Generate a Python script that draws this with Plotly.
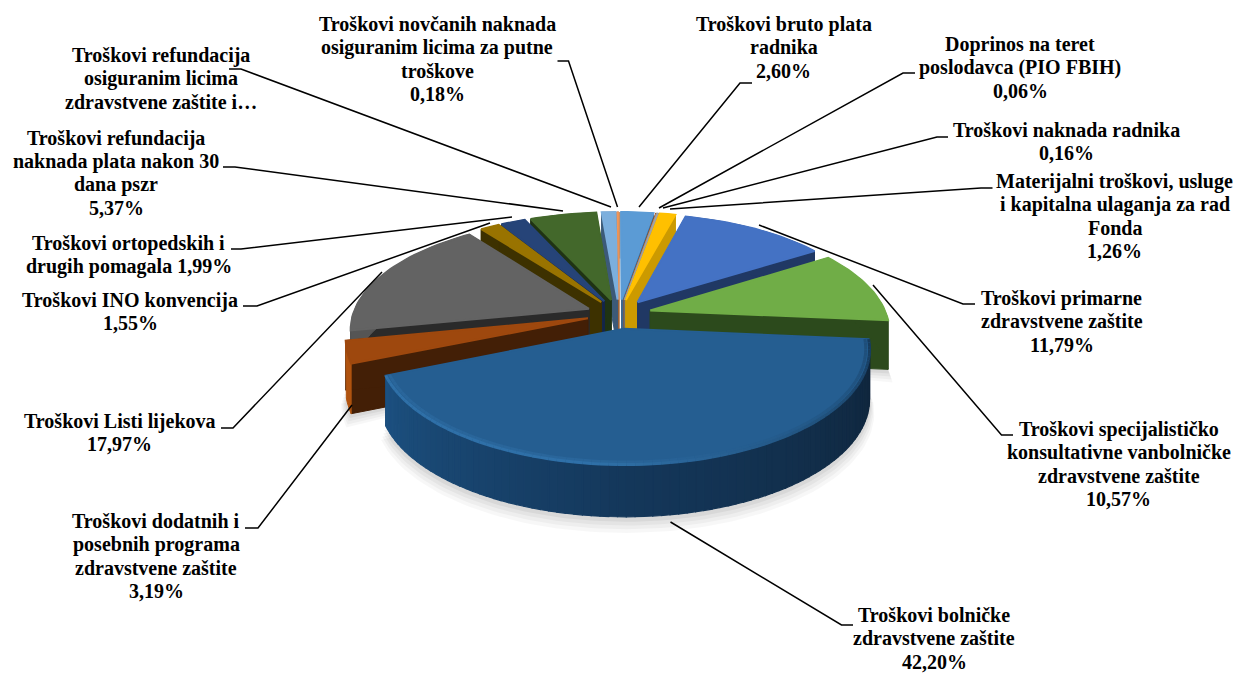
import math
import plotly.graph_objects as go

# ---- data ----
names = ["Troškovi bruto plata radnika", "Doprinos na teret poslodavca (PIO FBIH)", "Troškovi naknada radnika",
         "Materijalni troškovi, usluge i kapitalna ulaganja za rad Fonda", "Troškovi primarne zdravstvene zaštite",
         "Troškovi specijalističko konsultativne vanbolničke zdravstvene zaštite", "Troškovi bolničke zdravstvene zaštite",
         "Troškovi dodatnih i posebnih programa zdravstvene zaštite", "Troškovi Listi lijekova", "Troškovi INO konvencija",
         "Troškovi ortopedskih i drugih pomagala", "Troškovi refundacija naknada plata nakon 30 dana pszr",
         "Troškovi refundacija osiguranim licima zdravstvene zaštite i…", "Troškovi novčanih naknada osiguranim licima za putne troškove"]
values = [2.60, 0.06, 0.16, 1.26, 11.79, 10.57, 42.20, 3.19, 17.97, 1.55, 1.99, 5.37, 1.11, 0.18]

# ---- style ----
top_colors = ["#5B9BD5", "#ED7D31", "#A5A5A5", "#FFC000", "#4472C4", "#70AD47", "#255E91",
              "#9E480E", "#636363", "#997300", "#264478", "#43682B", "#7CAFDD", "#F1975A"]
face_colors = ["#3d6890", "#9a5020", "#6e6e6e", "#CC9A00", "#203864", "#2C4A1C", "#10304f",
               "#431F06", "#2A2A2A", "#3D3100", "#14264A", "#1F3313", "#3C5A78", "#A06030"]
rim_colors = ["#3d6890", "#9a5020", "#6e6e6e", "#CC9A00", "#203864", "#2C4A1C", "#14395c",
              "#B0530F", "#555555", "#3D3100", "#14264A", "#1F3313", "#3C5A78", "#A06030"]
rim_left, rim_mid, rim_right = "#1c5080", "#14375a", "#0f2439"
bevel_left, bevel_right = "#2f70a8", "#163a5c"

label_lines = [
    ["Troškovi bruto plata", "radnika", "2,60%"],
    ["Doprinos na teret", "poslodavca (PIO FBIH)", "0,06%"],
    ["Troškovi naknada radnika", "0,16%"],
    ["Materijalni troškovi, usluge", "i kapitalna ulaganja za rad", "Fonda", "1,26%"],
    ["Troškovi primarne", "zdravstvene zaštite", "11,79%"],
    ["Troškovi specijalističko", "konsultativne vanbolničke", "zdravstvene zaštite", "10,57%"],
    ["Troškovi bolničke", "zdravstvene zaštite", "42,20%"],
    ["Troškovi dodatnih i", "posebnih programa", "zdravstvene zaštite", "3,19%"],
    ["Troškovi Listi lijekova", "17,97%"],
    ["Troškovi INO konvencija", "1,55%"],
    ["Troškovi ortopedskih i", "drugih pomagala 1,99%"],
    ["Troškovi refundacija", "naknada plata nakon 30", "dana pszr", "5,37%"],
    ["Troškovi refundacija", "osiguranim licima", "zdravstvene zaštite i…"],
    ["Troškovi novčanih naknada", "osiguranim licima za putne", "troškove", "0,18%"],
]
label_x = [783.5, 1020, 1066.5, 1114.5, 1061.5, 1118.5, 934, 156, 119.5, 130, 128.5, 116, 161, 437]
label_y = [24, 44, 130, 181, 298, 429, 615, 521, 421, 300, 243, 138, 55, 24]
LINE_STEP = 23.3

leaders = [
    [(752, 83), (740, 83), (639, 207)],
    [(915, 73), (903, 73), (659, 208)],
    [(948, 137), (937, 137), (663, 208)],
    [(992.5, 188), (981, 188), (670, 209)],
    [(975, 304), (963, 304), (759, 225)],
    [(1013, 435), (1001.5, 435), (873, 285)],
    [(853, 625), (841.5, 625), (670.5, 522)],
    [(245, 528), (258, 528), (352, 405)],
    [(221, 428), (233, 428), (382, 272)],
    [(243, 306), (257, 306), (490, 223)],
    [(231, 249), (241, 249), (512, 217)],
    [(223, 167), (235, 167), (563, 211)],
    [(229, 69), (241, 69), (611, 207)],
    [(557.5, 61), (568.5, 61), (617.5, 207)],
]

# ---- projection of the exploded disc ----
CX, CY, R, RY, K, H, EXPLODE = 619, 314, 236, 107, 0.17, 49, 0.137


def proj(u, v, z=0.0):
    s = 1 / (1 + K * v)
    return CX + R * u * s, CY - RY * v * s + H * z * s ** 0.3


def hex_rgb(c):
    return tuple(int(c[i:i + 2], 16) for i in (1, 3, 5))


def mix(a, b, t):
    ra, rb = hex_rgb(a), hex_rgb(b)
    return "#%02x%02x%02x" % tuple(round(x + (y - x) * t) for x, y in zip(ra, rb))


fig = go.Figure()


def poly(points, color, lw=1.0):
    xs = [p[0] for p in points] + [points[0][0]]
    ys = [p[1] for p in points] + [points[0][1]]
    fig.add_trace(go.Scatter(x=xs, y=ys, mode="lines", fill="toself", fillcolor=color,
                             line=dict(color=color, width=lw), hoverinfo="skip", showlegend=False))


total = sum(values)
slices = []
acc = 0.0
for i, val in enumerate(values):
    a0 = acc / total * 2 * math.pi
    acc += val
    a1 = acc / total * 2 * math.pi
    mid = (a0 + a1) / 2
    slices.append((i, a0, a1, EXPLODE * math.sin(mid), EXPLODE * math.cos(mid)))


def arc(a0, a1, ox, oy, z=0.0, r=1.0, n=None):
    n = n or max(2, int((a1 - a0) / 0.03))
    return [proj(ox + r * math.sin(a0 + (a1 - a0) * j / n), oy + r * math.cos(a0 + (a1 - a0) * j / n), z)
            for j in range(n + 1)]


# soft shadow under the front slices
for i in (5, 6, 7):
    _, a0, a1, ox, oy = slices[i]
    for grow, alpha in ((13, 0.03), (10, 0.035), (7, 0.04), (4, 0.05)):
        pts = [proj(ox, oy, 1)] + [(x, y + grow) for x, y in arc(a0, a1, ox, oy, 1, 1 + grow / 700)]
        poly(pts, f"rgba(0,0,0,{alpha})", 0)

# back to front
for i, a0, a1, ox, oy in sorted(slices, key=lambda s: -(math.cos((s[1] + s[2]) / 2))):
    # cut faces
    for a in (a0, a1):
        poly([proj(ox, oy, 0), arc(a, a, ox, oy, 0, 1, 2)[0], arc(a, a, ox, oy, 1, 1, 2)[0], proj(ox, oy, 1)],
             face_colors[i])
    # outer wall
    top = arc(a0, a1, ox, oy, 0)
    bot = arc(a0, a1, ox, oy, 1)
    if i == 6:
        for j in range(len(top) - 1):
            t = j / (len(top) - 2)  # 0 = right end, 1 = left end
            col = mix(rim_right, rim_mid, t / 0.55) if t < 0.55 else mix(rim_mid, rim_left, (t - 0.55) / 0.45)
            poly([top[j], top[j + 1], bot[j + 1], bot[j]], col, 1.2)
    else:
        poly(top + bot[::-1], rim_colors[i], 1.0)
    # top surface
    poly([proj(ox, oy, 0)] + top, top_colors[i], 2.0 if i not in (1, 2, 13) else 0.8)
    # bevel of the large front slice
    if i == 6:
        for r, width, strength in ((0.985, 3, 0.45), (1.0, 3, 1.0)):
            bev = arc(a0, a1, ox, oy, 0.0, r)
            for j in range(len(bev) - 1):
                t = j / (len(bev) - 2)
                col = mix(top_colors[6], mix(bevel_right, bevel_left, min(1, t / 0.6)), strength)
                fig.add_trace(go.Scatter(x=[bev[j][0], bev[j + 1][0]], y=[bev[j][1], bev[j + 1][1]], mode="lines",
                                         line=dict(color=col, width=width), hoverinfo="skip", showlegend=False))

# leader lines
for pts in leaders:
    fig.add_trace(go.Scatter(x=[p[0] for p in pts], y=[p[1] for p in pts], mode="lines",
                             line=dict(color="black", width=1.5), hoverinfo="skip", showlegend=False))

for lines, x, y in zip(label_lines, label_x, label_y):
    for n, line in enumerate(lines):
        fig.add_annotation(x=x, y=y + n * LINE_STEP, text=f"<b>{line}</b>", showarrow=False,
                           xanchor="center", yanchor="middle", align="center",
                           font=dict(family="Liberation Serif", size=20, color="black"))

fig.update_layout(width=1238, height=673, margin=dict(l=0, r=0, t=0, b=0), paper_bgcolor="white",
                  plot_bgcolor="white", showlegend=False,
                  xaxis=dict(range=[0, 1238], visible=False, fixedrange=True),
                  yaxis=dict(range=[673, 0], visible=False, fixedrange=True))
fig.write_html("out.html", config={"displayModeBar": False},
               post_script="document.body.style.margin='0';document.body.style.overflow='hidden';")
